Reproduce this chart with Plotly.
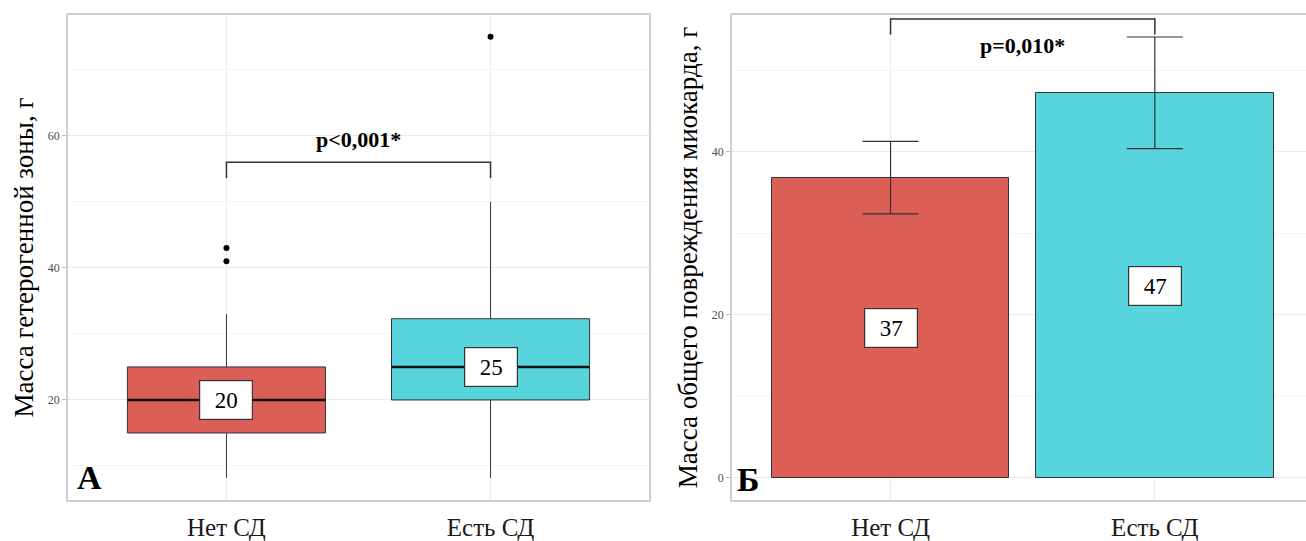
import plotly.graph_objects as go

# ---------------- data ----------------
categories = ["Нет СД", "Есть СД"]
cat_pos = [0, 1]
colors = ["#DB5F57", "#57D4DC"]

# Panel A: boxplot (heterogeneous zone mass)
box_q1 = [15, 20]
box_median = [20, 25]
box_q3 = [25, 32.3]
box_low = [8.2, 8.2]
box_high = [33, 50]
outlier_x = [0, 0, 1]
outlier_y = [43, 41, 75]
box_labels = ["20", "25"]
p_text_a = "p<0,001*"
bracket_a = [56, 53.6]   # bracket top, leg end

# Panel B: bar chart (total myocardial damage mass)
bar_mean = [36.8, 47.2]
bar_err_high = [41.3, 54.1]
bar_err_low = [32.4, 40.4]
bar_labels = ["37", "47"]
p_text_b = "p=0,010*"
bracket_b = [56.3, 54.4]

ytitle_a = "Масса гетерогенной зоны, г"
ytitle_b = "Масса общего повреждения миокарда, г"

# ---------------- figure ----------------
SERIF = "Liberation Serif, Times New Roman, serif"
EDGE = "#333333"
fig = go.Figure()

# Box plot traces
for i in range(2):
    fig.add_trace(go.Box(
        x=[cat_pos[i]], q1=[box_q1[i]], median=[box_median[i]], q3=[box_q3[i]],
        lowerfence=[box_low[i]], upperfence=[box_high[i]],
        width=0.75, whiskerwidth=0, fillcolor=colors[i],
        line=dict(color=EDGE, width=1), boxpoints=False,
        xaxis="x", yaxis="y", showlegend=False, hoverinfo="skip"))
    # thicker median line
    fig.add_trace(go.Scatter(
        x=[cat_pos[i] - 0.375, cat_pos[i] + 0.375], y=[box_median[i], box_median[i]],
        mode="lines", line=dict(color="#111111", width=2.5),
        xaxis="x", yaxis="y", showlegend=False, hoverinfo="skip"))

fig.add_trace(go.Scatter(
    x=outlier_x, y=outlier_y, mode="markers",
    marker=dict(color="black", size=6), xaxis="x", yaxis="y",
    showlegend=False, hoverinfo="skip"))

# bracket A
fig.add_trace(go.Scatter(
    x=[cat_pos[0], cat_pos[0], cat_pos[1], cat_pos[1]],
    y=[bracket_a[1], bracket_a[0], bracket_a[0], bracket_a[1]],
    mode="lines", line=dict(color=EDGE, width=1.5), xaxis="x", yaxis="y",
    showlegend=False, hoverinfo="skip"))

# Bars
fig.add_trace(go.Bar(
    x=cat_pos, y=bar_mean, width=0.9,
    marker=dict(color=colors, line=dict(color=EDGE, width=1)),
    error_y=dict(type="data", symmetric=False,
                 array=[h - m for h, m in zip(bar_err_high, bar_mean)],
                 arrayminus=[m - l for m, l in zip(bar_mean, bar_err_low)],
                 color=EDGE, thickness=1.2, width=28),
    xaxis="x2", yaxis="y2", showlegend=False, hoverinfo="skip"))

# bracket B
fig.add_trace(go.Scatter(
    x=[cat_pos[0], cat_pos[0], cat_pos[1], cat_pos[1]],
    y=[bracket_b[1], bracket_b[0], bracket_b[0], bracket_b[1]],
    mode="lines", line=dict(color=EDGE, width=1.5), xaxis="x2", yaxis="y2",
    showlegend=False, hoverinfo="skip"))

annotations = []
# labels on boxes
lab = dict(showarrow=False, font=dict(family=SERIF, size=23, color="black"),
           bgcolor="white", bordercolor=EDGE, borderwidth=1.2, borderpad=6,
           width=40, height=26)
for i in range(2):
    annotations.append(dict(lab, x=cat_pos[i], y=box_median[i], xref="x", yref="y",
                            text=box_labels[i]))
    annotations.append(dict(lab, x=cat_pos[i], y=bar_mean[i] / 2, xref="x2", yref="y2",
                            text=bar_labels[i]))

annotations.append(dict(
    x=(cat_pos[0] + cat_pos[1]) / 2, y=bracket_a[0], xref="x", yref="y",
    text="<b>" + p_text_a + "</b>", showarrow=False, yanchor="bottom", yshift=8,
    font=dict(family=SERIF, size=22, color="black")))
annotations.append(dict(
    x=(cat_pos[0] + cat_pos[1]) / 2, y=bracket_b[0], xref="x2", yref="y2",
    text="<b>" + p_text_b + "</b>", showarrow=False, yanchor="top", yshift=-12,
    font=dict(family=SERIF, size=22, color="black")))

annotations.append(dict(
    x=0.012, y=0.005, xref="x domain", yref="y domain", text="<b>А</b>",
    showarrow=False, xanchor="left", yanchor="bottom",
    font=dict(family=SERIF, size=34, color="black")))
annotations.append(dict(
    x=0.005, y=0.0, xref="x2 domain", yref="y2 domain", text="<b>Б</b>",
    showarrow=False, xanchor="left", yanchor="bottom",
    font=dict(family=SERIF, size=34, color="black")))

W, H = 1306, 541
xa = dict(tickmode="array", tickvals=cat_pos, ticktext=categories,
          tickfont=dict(family=SERIF, size=25, color="#1a1a1a"),
          showgrid=True, gridcolor="#ebebeb", gridwidth=1, zeroline=False,
          ticks="", ticklen=4, ticklabelstandoff=4,
          showline=True, linecolor="#cfcfcf", linewidth=1.5)
ya = dict(tickfont=dict(family=SERIF, size=12, color="#4d4d4d"),
          ticks="outside", ticklen=4, tickcolor="#bbbbbb",
          showgrid=True, gridcolor="#ebebeb", gridwidth=1, zeroline=False,
          minor=dict(dtick=10, showgrid=True, gridcolor="#f5f5f5", ticks=""),
          showline=True, linecolor="#cfcfcf", linewidth=1.5,
          title_font=dict(family=SERIF, size=27, color="black"), title_standoff=6)

fig.update_layout(
    width=W, height=H, margin=dict(l=0, r=0, t=0, b=0),
    paper_bgcolor="white", plot_bgcolor="white",
    xaxis=dict(xa, domain=[68 / W, 649 / W], range=[-0.6, 1.6], anchor="y", mirror=True),
    yaxis=dict(ya, domain=[41 / H, 526 / H], range=[4.85, 78.3], dtick=20, tick0=0,
               anchor="x", mirror=True, title=dict(text=ytitle_a)),
    xaxis2=dict(xa, domain=[732 / W, 1.0], range=[-0.6, 1.572], anchor="y2", mirror=True),
    yaxis2=dict(ya, domain=[41 / H, 526 / H], range=[-2.7, 56.8], dtick=20, tick0=0,
                anchor="x2", mirror=False, title=dict(text=ytitle_b)),
    annotations=annotations,
    bargap=0,
)

fig.write_html("out.html")
